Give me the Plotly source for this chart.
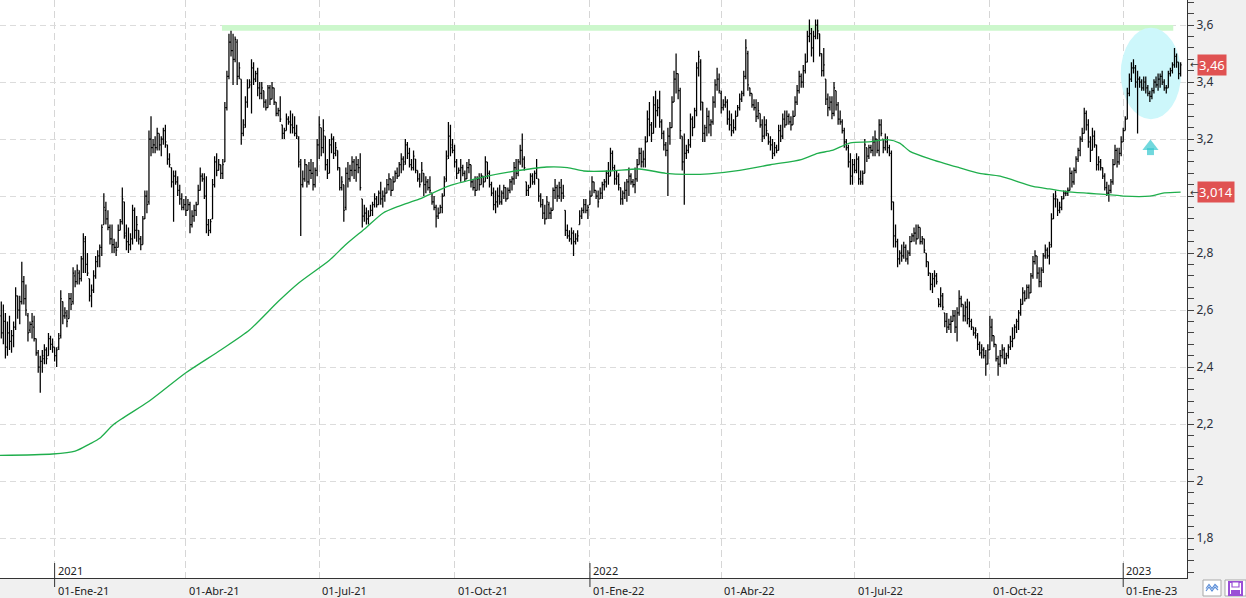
import pandas as pd
import plotly.graph_objects as go

# ---------------- DATA (daily OHLC, values in euro cents) ----------------
first_session = "2020-11-26"

open_c = [
258,252,
256,247,252,249,251, 254,265,260,263,270, 264,258,253,255,254, 250,245,240,242,243,
246,244,250,248,247, 244,247,251,263,258, 258,257,264,263,272, 270,273,271,278,284,
276,271,265,267,272, 277,279,282,290,295, 292,289,285,283,282, 282,288,291,298,286,
284,283,285,295,288, 288,285,283,292,300, 298,320,317,318,317, 322,318,320,323,318,
313,310,305,307,305, 302,299,296,297,295, 297,290,293,295,297, 302,307,306,300,290,
288,292,304,312,309, 311,308,312,331,342, 354,351,348,354,342, 341,322,325,333,338,
339,345,341,343,338, 336,337,333,331,338, 334,338,333,329,330, 325,322,323,327,326,
325,324,322,320,311, 304,306,311,305,309, 308,304,309,318,324, 317,321,311,308,318,
320,315,316,310,303, 304,296,308,306,309, 312,309,311,310,299, 293,294,292,293,295,
297,299,297,301,299, 300,301,304,306,302, 305,308,307,311,313, 312,318,315,311,310,
313,309,306,305,308, 304,305,303,301,298, 296,293,294,296,300, 306,314,321,318,316,
312,308,309,310,308, 306,310,311,305,303, 302,306,304,307,305, 312,308,304,301,297,
298,300,298,301,303, 299,302,305,306,310, 308,312,316,313,305, 302,303,307,305,308,
306,300,297,294,292, 297,294,295,302,303, 300,303,301,295,288, 286,285,287,284,285,
290,293,295,297,295, 297,300,305,302,300, 299,301,304,305,308, 307,315,310,306,307,
303,299,301,302,305, 307,305,304,306,311, 315,312,313,319,327, 325,322,332,330,331,
326,322,318,316,321, 324,333,341,343,337, 321,312,315,316,318, 327,324,330,345,347,
333,322,324,328,325, 326,333,339,341,336, 331,332,333,327,325, 323,324,328,331,334,
336,342,350,338,336, 332,331,328,329,325, 321,325,322,319,318, 315,317,316,323,321,
327,325,328,326,325, 328,333,337,342,340, 344,347,356,357,352, 356,360,357,350,344,
341,334,331,333,329, 337,332,327,326,323, 319,317,312,307,311, 309,313,306,305,308,
317,314,317,316,319, 320,316,325,320,317, 319,317,315,298,286, 284,278,280,279,282,
278,280,284,286,287, 285,289,284,285,280, 277,273,269,271,272, 264,262,265,259,256,
254,255,256,258,254, 259,264,262,258,261, 257,256,254,252,251, 248,245,246,244,241,
246,254,251,248,243, 241,244,246,243,244, 247,249,250,254,256, 259,262,266,264,268,
266,272,277,279,273, 270,274,279,281,279, 283,292,299,299,295, 296,299,301,301,302,
308,305,309,313,316, 320,322,329,325,319, 316,321,318,311,312, 310,307,303,301,302,
305,311,316,312,315, 319,323,327,336,341, 345,345,340,341,340, 338,340,338,336,335,
337,340,339,341,342, 340,338,338,343,344, 346,349,347,343,
]

high_c = [
263,262,
259,256,258,253,256, 268,265,265,277,272, 269,259,256,259,258, 250,246,244,246,248,
247,252,251,250,247, 247,252,267,263,261, 260,266,266,275,274, 276,274,279,287,286,
280,271,269,274,279, 281,283,290,301,298, 295,290,290,285,284, 290,292,303,298,290,
289,287,297,296,293, 288,286,293,302,302, 323,328,320,321,324, 322,321,324,325,318,
315,310,309,309,307, 304,301,299,300,299, 298,295,297,298,304, 310,308,308,307,292,
292,306,314,315,313, 311,313,333,344,357, 358,357,356,355,347, 341,327,335,341,341,
348,347,344,345,340, 340,337,334,339,339, 340,338,333,331,335, 325,324,329,328,330,
329,328,325,321,313, 309,313,311,312,313, 312,310,320,328,324, 327,321,313,320,322,
321,319,316,310,307, 304,310,312,311,314, 313,314,313,315,299, 297,296,295,297,298,
301,300,302,305,302, 303,306,308,306,307, 309,310,312,315,314, 320,319,317,313,316,
313,309,308,312,308, 307,306,307,301,300, 297,296,297,301,307, 316,326,325,320,318,
313,310,313,311,309, 312,313,311,306,307, 307,308,308,307,314, 312,309,305,303,302,
303,304,302,304,303, 303,306,307,312,313, 313,318,322,314,305, 304,308,308,309,313,
306,301,299,297,300, 298,296,303,306,304, 305,306,304,295,290, 288,289,288,287,288,
295,296,299,299,297, 302,307,305,302,302, 303,305,306,309,312, 317,316,311,309,308,
303,302,305,306,310, 308,306,310,313,317, 317,316,321,330,333, 326,335,337,334,337,
327,323,319,324,326, 335,344,350,343,338, 321,322,318,320,329, 328,331,347,351,348,
333,325,331,330,327, 335,341,345,343,337, 334,335,334,330,329, 327,330,332,336,337,
344,355,351,338,336, 334,334,333,329,327, 328,327,322,321,320, 319,318,325,325,329,
330,330,329,328,330, 335,339,344,343,346, 350,358,362,359,358, 362,362,357,350,352,
341,336,335,335,340, 337,333,330,327,324, 320,318,315,313,313, 315,314,309,309,320,
317,318,318,321,323, 320,327,327,320,322, 321,318,316,298,290, 285,281,283,284,283,
281,286,287,289,290, 290,289,286,285,280, 277,273,273,274,273, 264,268,266,259,259,
257,258,260,260,261, 267,265,262,263,264, 263,257,254,254,252, 249,248,247,246,248,
258,257,251,248,244, 246,248,247,245,248, 251,254,255,257,260, 264,268,267,269,269,
273,279,281,279,275, 275,280,283,282,284, 294,301,302,299,298, 300,302,302,303,310,
309,310,314,317,321, 324,331,330,327,321, 324,323,318,314,313, 310,308,305,304,306,
313,318,317,317,321, 324,328,338,343,347, 348,346,344,342,341, 342,342,339,337,338,
341,342,343,343,344, 341,339,344,345,347, 352,350,347,347,
]

low_c = [
250,248,
243,244,246,245,247, 253,257,255,262,262, 258,249,252,250,249, 244,238,231,238,241,
241,244,246,245,242, 240,246,250,255,257, 254,257,260,262,268, 269,269,270,273,273,
272,263,261,266,271, 275,275,279,290,290, 288,283,280,280,279, 282,288,290,285,281,
280,281,283,285,284, 283,281,283,292,294, 297,314,315,315,316, 316,314,318,317,311,
310,303,291,304,300, 297,295,295,293,295, 287,289,291,293,297, 302,305,299,287,286,
287,292,303,307,309, 306,306,312,330,341, 349,339,347,339,341, 318,321,324,331,338,
329,339,340,335,334, 334,331,330,331,332, 334,332,328,328,326, 320,320,323,325,322,
322,321,320,310,286, 303,305,303,304,306, 302,303,307,313,314, 315,309,306,308,315,
313,314,309,302,302, 291,295,303,305,307, 306,305,308,302,289, 291,290,290,293,293,
296,296,297,297,296, 298,301,302,300,302, 305,306,307,308,309, 311,313,310,309,309,
308,305,303,305,300, 301,302,301,297,295, 289,292,294,294,300, 305,313,314,315,310,
306,308,305,307,305, 306,308,303,302,300, 302,302,304,303,305, 306,303,300,295,294,
296,297,297,299,298, 299,301,302,304,306, 307,311,310,309,300, 300,303,304,304,306,
298,296,292,290,292, 292,292,295,299,298, 299,298,299,286,285, 284,283,279,283,284,
290,292,294,294,292, 297,300,301,299,296, 299,299,302,303,304, 307,309,304,304,302,
297,297,299,298,300, 304,303,301,305,311, 310,310,310,319,321, 319,322,324,328,324,
320,316,314,300,318, 324,333,336,334,320, 309,297,313,315,317, 321,324,328,342,330,
319,319,321,322,321, 325,331,337,336,329, 330,331,325,323,321, 322,323,328,330,333,
335,341,337,335,331, 330,326,327,324,319, 320,321,318,316,313, 314,315,316,319,320,
324,325,325,323,325, 328,332,336,338,338, 343,347,354,349,347, 355,355,349,342,342,
332,328,330,327,328, 330,325,325,322,317, 316,310,304,304,308, 308,304,304,304,308,
312,313,315,314,314, 315,314,321,315,316, 315,314,295,282,282, 275,276,277,278,277,
276,279,284,284,283, 285,283,283,280,275, 272,267,266,268,269, 261,261,260,254,252,
253,252,256,252,249, 258,261,256,256,255, 254,253,251,250,246, 244,243,243,237,241,
246,249,247,242,237, 240,243,241,241,243, 246,247,250,252,253, 258,262,263,264,264,
266,271,276,271,268, 268,273,278,278,276, 282,292,296,293,294, 295,299,300,300,302,
303,304,308,312,314, 319,322,323,317,312, 316,317,309,309,309, 306,302,300,298,301,
304,311,310,311,314, 319,323,327,335,340, 343,338,322,338,337, 337,336,335,333,334,
336,338,337,338,339, 337,336,338,342,343, 345,345,341,342,
]

close_c = [
252,256,
247,252,249,251,254, 265,260,263,270,264, 260,252,255,256,250, 245,240,242,244,246,
243,250,248,247,244, 246,250,264,258,259, 256,264,262,273,270, 274,271,278,285,276,
273,265,267,272,277, 279,282,289,296,292, 289,285,283,282,281, 288,291,299,287,284,
283,285,295,288,290, 285,283,292,300,297, 320,317,318,317,322, 318,320,323,319,313,
311,305,307,305,302, 299,296,297,295,297, 290,293,295,297,302, 307,306,300,290,288,
291,304,312,309,311, 308,311,331,342,354, 351,348,355,342,345, 322,324,333,338,340,
345,341,343,338,336, 338,333,331,338,334, 338,333,329,330,327, 322,323,327,326,325,
324,322,321,312,304, 306,311,305,309,308, 304,309,318,325,317, 323,311,308,318,320,
315,317,310,303,305, 295,308,306,309,312, 309,311,310,303,293, 294,292,293,295,297,
299,297,301,299,300, 301,304,306,302,305, 308,307,311,313,311, 318,315,311,310,314,
309,306,304,309,304, 305,303,302,298,296, 293,294,296,300,305, 313,321,317,316,312,
308,309,310,308,306, 310,311,305,303,302, 306,304,307,305,312, 308,304,301,297,298,
300,298,301,303,299, 302,305,306,310,308, 312,316,313,310,302, 303,307,305,308,310,
300,297,294,292,298, 294,295,302,303,300, 303,301,300,288,286, 285,287,284,285,286,
293,295,297,295,296, 300,305,302,300,298, 301,304,305,308,307, 315,310,306,307,304,
299,301,302,305,307, 305,304,306,311,315, 312,313,319,327,325, 322,332,330,331,326,
322,318,316,321,324, 333,341,343,337,323, 312,315,316,318,327, 324,330,345,349,333,
322,324,328,325,326, 333,339,341,337,331, 332,333,327,325,323, 324,328,331,334,336,
342,352,339,336,332, 331,328,330,325,321, 325,323,319,318,315, 317,316,323,321,327,
325,328,326,325,328, 333,337,342,340,344, 347,356,357,352,356, 360,358,350,344,346,
334,331,333,329,338, 332,327,326,323,319, 317,312,307,311,309, 313,306,305,308,318,
314,317,316,319,320, 316,325,322,317,319, 317,315,298,286,284, 278,280,279,282,278,
280,284,286,287,285, 289,284,285,281,277, 273,269,271,272,270, 262,265,261,256,254,
255,256,258,254,259, 264,262,258,261,257, 256,254,252,253,248, 245,246,244,241,246,
254,251,248,243,241, 244,246,243,244,247, 249,250,254,256,259, 262,266,264,268,266,
272,277,279,273,270, 274,279,281,279,282, 292,299,300,295,296, 299,301,301,302,308,
305,309,313,316,320, 322,329,325,319,316, 321,318,311,312,310, 307,303,301,302,305,
311,316,312,315,319, 323,327,336,341,345, 345,340,341,340,338, 340,338,336,335,337,
340,339,341,342,340, 338,338,343,344,346, 349,347,343,346,
]

# moving average (green line), read at points along the curve
ma_dates = [
    "2020-11-25", "2020-12-31", "2021-01-15", "2021-01-26", "2021-02-02", "2021-02-11",
    "2021-03-08", "2021-04-01", "2021-04-26", "2021-05-14", "2021-06-03", "2021-06-17",
    "2021-07-08", "2021-07-20", "2021-08-03", "2021-08-13", "2021-08-25", "2021-09-08",
    "2021-09-28", "2021-10-25", "2021-11-09", "2021-12-03", "2021-12-17", "2021-12-29",
    "2022-01-17", "2022-02-04", "2022-02-23", "2022-03-09", "2022-03-24", "2022-04-14",
    "2022-05-05", "2022-05-26", "2022-06-07", "2022-06-16", "2022-06-29", "2022-07-12",
    "2022-07-25", "2022-08-02", "2022-08-09", "2022-08-23", "2022-09-12", "2022-09-26",
    "2022-10-10", "2022-11-01", "2022-11-11", "2022-11-23", "2022-12-08", "2022-12-22",
    "2023-01-02", "2023-01-19", "2023-01-30", "2023-02-09",
]
ma_values = [
    2.090, 2.095, 2.105, 2.130, 2.150, 2.200,
    2.280, 2.380, 2.460, 2.530, 2.630, 2.695,
    2.775, 2.830, 2.890, 2.940, 2.965, 2.990,
    3.035, 3.070, 3.085, 3.102, 3.100, 3.088,
    3.088, 3.095, 3.080, 3.076, 3.078, 3.090,
    3.110, 3.128, 3.150, 3.160, 3.187, 3.190,
    3.198, 3.186, 3.157, 3.130, 3.100, 3.080,
    3.070, 3.034, 3.025, 3.016, 3.010, 3.005,
    3.000, 3.000, 3.011, 3.014,
]

quarter_starts = ["2021-01-01", "2021-04-01", "2021-07-01", "2021-10-01", "2022-01-01",
                  "2022-04-01", "2022-07-01", "2022-10-01", "2023-01-01"]
quarter_labels = ["01-Ene-21", "01-Abr-21", "01-Jul-21", "01-Oct-21", "01-Ene-22",
                  "01-Abr-22", "01-Jul-22", "01-Oct-22", "01-Ene-23"]
year_labels = ["2021", "2022", "2023"]
year_starts = ["2021-01-01", "2022-01-01", "2023-01-01"]

# the "3" label is hidden behind the moving-average price box in the original
y_tickvals = [1.8, 2.0, 2.2, 2.4, 2.6, 2.8, 3.0, 3.2, 3.4, 3.6]
y_ticktext = ["1,8", "2", "2,2", "2,4", "2,6", "2,8", "", "3,2", "3,4", "3,6"]

resistance_level = 3.59

# ---------------- FIGURE ----------------
assert len(open_c) == len(high_c) == len(low_c) == len(close_c)
dates = pd.bdate_range(first_session, periods=len(close_c))
o = [v / 100 for v in open_c]
h = [v / 100 for v in high_c]
l = [v / 100 for v in low_c]
c = [v / 100 for v in close_c]

bday = pd.offsets.BDay()
q_pos = [bday.rollforward(pd.Timestamp(d)) for d in quarter_starts]
y_pos = [bday.rollforward(pd.Timestamp(d)) for d in year_starts]

try:
    go.layout.Shape(layer="between")
    MID = "between"
except Exception:
    MID = "below"

fig = go.Figure()

fig.add_trace(go.Scatter(
    x=pd.to_datetime(ma_dates), y=ma_values, mode="lines",
    line=dict(color="#1fae4c", width=1.3, shape="spline", smoothing=0.7),
    hoverinfo="skip"))

fig.add_trace(go.Ohlc(
    x=dates, open=o, high=h, low=l, close=c,
    increasing=dict(line=dict(color="#000000", width=1.25)),
    decreasing=dict(line=dict(color="#000000", width=1.25)),
    tickwidth=0.5, hoverinfo="skip"))

# cyan up arrow marker (head + shaft)
fig.add_trace(go.Scatter(
    x=[pd.Timestamp("2023-01-19 07:00"), pd.Timestamp("2023-01-19 07:00")],
    y=[3.1737, 3.1561], mode="markers",
    marker=dict(symbol=["triangle-up", "square"], size=[14, 7], color="#35c8cf",
                line=dict(width=0)),
    hoverinfo="skip"))

W, H = 1246, 598
ML, MR, MT, MB = 0, 59, 0, 20
PW, PH = W - ML - MR, H - MT - MB

def px(xp):
    return (xp - ML) / PW

def py(yp):
    return 1 - (yp - MT) / PH

shapes = []
# resistance band
shapes.append(dict(type="rect", xref="x", yref="y",
                   x0="2021-04-26 14:00", x1="2023-02-03 09:36",
                   y0=resistance_level - 0.01, y1=resistance_level + 0.01,
                   fillcolor="#ccf7cc", line=dict(width=0), layer=MID))
# highlight ellipse
shapes.append(dict(type="circle", xref="x", yref="y",
                   x0="2022-12-29 19:00", x1="2023-02-09 05:00",
                   y0=3.27, y1=3.5905,
                   fillcolor="#cdf7fb", line=dict(width=0), layer=MID))
# year separators: short dark tick crossing the time axis
for d in y_pos:
    shapes.append(dict(type="line", xref="x", yref="paper", x0=d, x1=d,
                       y0=py(563), y1=py(587), line=dict(color="#333333", width=1),
                       layer="above"))


def icon_path(points):
    return "M " + " L ".join(f"{px(a):.6f},{py(b):.6f}" for a, b in points)


# bottom-right toolbar icons
shapes.append(dict(type="rect", xref="paper", yref="paper",
                   x0=px(1203), x1=px(1221), y0=py(596), y1=py(580),
                   fillcolor="#ffffff", line=dict(color="#a9a9a9", width=1)))
for off in (0, 2.5):
    shapes.append(dict(type="path", xref="paper", yref="paper",
                       path=icon_path([(1206, 591 - off), (1209, 587 - off), (1212, 591 - off),
                                       (1215, 587 - off), (1218, 590 - off)]),
                       line=dict(color="#5d8fd8", width=1.2)))
shapes.append(dict(type="rect", xref="paper", yref="paper",
                   x0=px(1225), x1=px(1246), y0=py(596), y1=py(580),
                   fillcolor="#ffffff", line=dict(color="#a9a9a9", width=1)))
shapes.append(dict(type="rect", xref="paper", yref="paper",
                   x0=px(1229), x1=px(1242), y0=py(595), y1=py(582),
                   fillcolor="#ffffff", line=dict(color="#9a4fd6", width=2)))
shapes.append(dict(type="rect", xref="paper", yref="paper",
                   x0=px(1232), x1=px(1239), y0=py(587), y1=py(582),
                   fillcolor="#ffffff", line=dict(color="#9a4fd6", width=1.2)))
shapes.append(dict(type="rect", xref="paper", yref="paper",
                   x0=px(1231), x1=px(1240), y0=py(595), y1=py(590),
                   fillcolor="#9a4fd6", line=dict(width=0)))

annotations = []
for d, t in zip(q_pos, quarter_labels):
    annotations.append(dict(x=d, y=py(590), xref="x", yref="paper", text=t,
                            showarrow=False, xanchor="left", yanchor="middle", xshift=1,
                            font=dict(size=11, color="#222222")))
for d, t in zip(y_pos, year_labels):
    annotations.append(dict(x=d, y=py(570), xref="x", yref="paper", text=t,
                            showarrow=False, xanchor="left", yanchor="middle", xshift=1,
                            font=dict(size=11, color="#222222")))

last_close = c[-1]
last_ma = ma_values[-1]
for val, txt in [(last_close, f"{last_close:.2f}".replace(".", ",")),
                 (last_ma, f"{last_ma:.3f}".replace(".", ","))]:
    annotations.append(dict(x=px(1197), y=val, xref="paper", yref="y", text=txt,
                            showarrow=False, xanchor="left", yanchor="middle",
                            bgcolor="#e05252", borderpad=1,
                            font=dict(size=13, color="#ffffff")))
    annotations.append(dict(x=px(1188), y=val, xref="paper", yref="y", text="\u2190",
                            showarrow=False, xanchor="left", yanchor="middle",
                            font=dict(size=10, color="#333333", family="DejaVu Sans")))

fig.update_layout(
    width=W, height=H, margin=dict(l=ML, r=MR, t=MT, b=MB, pad=0),
    paper_bgcolor="#f0f0f0", plot_bgcolor="#ffffff",
    showlegend=False, separators=",.",
    font=dict(family="Noto Sans, Open Sans, DejaVu Sans, sans-serif", size=12, color="#2b2f3a"),
    shapes=shapes, annotations=annotations, hovermode=False,
)

fig.update_xaxes(
    type="date", range=["2020-11-25 08:53", "2023-02-14 02:24"],
    rangebreaks=[dict(bounds=["sat", "mon"])],
    rangeslider=dict(visible=False),
    tickmode="array", tickvals=q_pos, showticklabels=False, ticks="",
    showgrid=True, gridcolor="#d6d6d6", griddash="7px,4px", gridwidth=1,
    showline=True, linecolor="#333333", linewidth=1, zeroline=False,
)

fig.update_yaxes(
    side="right", range=[1.66, 3.688],
    tickmode="array", tickvals=y_tickvals, ticktext=y_ticktext,
    ticks="outside", ticklen=6, tickcolor="#444444",
    minor=dict(tick0=1.8, dtick=0.04, ticks="outside", ticklen=6,
               tickcolor="#444444", showgrid=False),
    showgrid=True, gridcolor="#dcdcdc", griddash="6px,4px", gridwidth=1,
    showline=True, linecolor="#333333", linewidth=1, zeroline=False,
    tickfont=dict(size=12, color="#2b2f3a"),
)

fig.write_html("out.html")
